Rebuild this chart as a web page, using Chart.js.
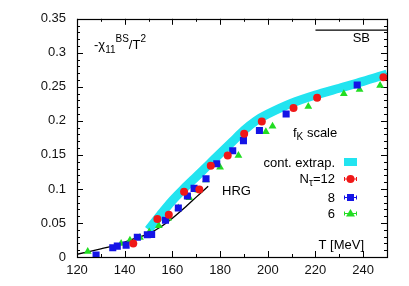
<!DOCTYPE html>
<html>
<head>
<meta charset="utf-8">
<script src="https://cdn.jsdelivr.net/npm/chart.js@4.4.1/dist/chart.umd.min.js"></script>
<style>
  html, body { margin: 0; padding: 0; background: #fff; }
  #wrap { width: 409px; height: 286px; }
</style>
</head>
<body>
<div id="wrap"><canvas id="chart" width="409" height="286"></canvas></div>
<script>
// tick values and labels
const xTickValues = [120, 140, 160, 180, 200, 220, 240];
const xTickLabels = ['120', '140', '160', '180', '200', '220', '240'];
const yTickValues = [0, 0.05, 0.1, 0.15, 0.2, 0.25, 0.3, 0.35];
const yTickLabels = ['0', '0.05', '0.1', '0.15', '0.2', '0.25', '0.3', '0.35'];

// N_tau = 12 (red circles)
const tempN12 = [143.6, 153.7, 158.5, 164.9, 171.3, 176.1, 183.2, 190.1, 197.5, 210.8, 220.7, 248.5];
const chiN12 = [0.020, 0.056, 0.062, 0.096, 0.099, 0.134, 0.149, 0.181, 0.199, 0.219, 0.234, 0.264];

// N_tau = 8 (blue squares)
const tempN8 = [128, 135, 136.9, 140.6, 145.3, 149.5, 151.3, 157.1, 162.5, 166.3, 169.1, 174.1, 178.6, 185.3, 189.8, 196.5, 207.7, 237.5];
const chiN8 = [0.003, 0.0135, 0.016, 0.0174, 0.029, 0.0328, 0.033, 0.054, 0.072, 0.0897, 0.1008, 0.115, 0.137, 0.156, 0.171, 0.186, 0.210, 0.2527];

// N_tau = 6 (green triangles)
const tempN6 = [124.5, 138.5, 142.2, 146.4, 150.3, 154.3, 158.3, 162.5, 167.1, 170.9, 174.1, 180, 187.7, 199.2, 202, 217, 231.9, 238.5, 247.1];
const chiN6 = [0.008, 0.020, 0.0246, 0.0285, 0.0366, 0.046, 0.057, 0.072, 0.087, 0.098, 0.113, 0.132, 0.149, 0.184, 0.192, 0.221, 0.240, 0.246, 0.252];

// continuum extrapolation band (centre line)
const bandTemp = [150, 155, 160, 165, 170, 175, 180, 185, 190, 195, 200, 210, 220, 230, 240, 250];
const bandChi = [0.040, 0.062, 0.083, 0.101, 0.118, 0.135, 0.152, 0.169, 0.186, 0.200, 0.210, 0.226, 0.238, 0.248, 0.258, 0.269];

// hadron resonance gas
const hrgTemp = [120, 125, 130, 135, 140, 145, 150, 155, 160, 165, 170, 175];
const hrgChi = [0.004, 0.008, 0.012, 0.016, 0.022, 0.028, 0.034, 0.044, 0.057, 0.072, 0.088, 0.104];

// Stefan-Boltzmann limit
const sbTemp = [220, 250];
const sbChi = [1 / 3, 1 / 3];

const FONT = '"Liberation Sans", Arial, Helvetica, sans-serif';
const RED = '#f01818';
const BLUE = '#1414e6';
const GREEN = '#22dd22';
const CYAN = '#22e4f0';

function toXY(xs, ys) {
    return xs.map((x, i) => ({ x: x, y: ys[i] }));
}

// draw text made of pieces (sub/superscripts)
function richText(ctx, parts, x, y, align) {
    let total = 0;
    parts.forEach(p => {
        ctx.font = p.size + 'px ' + FONT;
        total += ctx.measureText(p.t).width;
    });
    let cx = align === 'right' ? x - total : x;
    ctx.textAlign = 'left';
    ctx.textBaseline = 'alphabetic';
    parts.forEach(p => {
        ctx.font = p.size + 'px ' + FONT;
        ctx.fillText(p.t, cx, y + (p.dy || 0));
        cx += ctx.measureText(p.t).width;
    });
}

function marker(ctx, style, color, x, y) {
    ctx.fillStyle = color;
    ctx.beginPath();
    if (style === 'circle') {
        ctx.arc(x, y, 4, 0, Math.PI * 2);
    } else if (style === 'rect') {
        ctx.rect(x - 3.5, y - 3.5, 7, 7);
    } else {
        ctx.moveTo(x, y - 4.5);
        ctx.lineTo(x + 4.5, y + 3);
        ctx.lineTo(x - 4.5, y + 3);
        ctx.closePath();
    }
    ctx.fill();
}

const framePlugin = {
    id: 'frame',
    beforeDatasetsDraw(chart) {
        const ctx = chart.ctx;
        const a = chart.chartArea;
        const xs = chart.scales.x;
        const ys = chart.scales.y;
        ctx.save();
        ctx.strokeStyle = '#000';
        ctx.lineWidth = 1;
        ctx.beginPath();
        for (let v = 120; v <= 250; v += 10) {
            const px = Math.round(xs.getPixelForValue(v)) + 0.5;
            const len = (v - 120) % 20 === 0 ? 6 : 3;
            ctx.moveTo(px, a.bottom); ctx.lineTo(px, a.bottom - len);
            ctx.moveTo(px, a.top); ctx.lineTo(px, a.top + len);
        }
        for (let i = 0; i <= 35; i++) {
            const py = Math.round(ys.getPixelForValue(i / 100)) + 0.5;
            const len = i % 5 === 0 ? 6 : 3;
            ctx.moveTo(a.left, py); ctx.lineTo(a.left + len, py);
            ctx.moveTo(a.right, py); ctx.lineTo(a.right - len, py);
        }
        ctx.stroke();
        ctx.restore();
    },
    afterDatasetsDraw(chart) {
        const ctx = chart.ctx;
        const a = chart.chartArea;
        ctx.save();
        ctx.lineWidth = 1.2;
        ctx.strokeStyle = '#000';
        ctx.strokeRect(Math.round(a.left) + 0.5, Math.round(a.top) + 0.5,
            Math.round(a.right - a.left), Math.round(a.bottom - a.top));

        ctx.fillStyle = '#000';
        richText(ctx, [
            { t: '-\u03c7', size: 13 },
            { t: '11', size: 10, dy: 4 },
            { t: 'BS', size: 10, dy: -7 },
            { t: '/T', size: 13 },
            { t: '2', size: 10, dy: -7 }
        ], 94, 49, 'left');
        richText(ctx, [{ t: 'SB', size: 13 }], 370, 42, 'right');
        richText(ctx, [
            { t: 'f', size: 13 },
            { t: 'K', size: 10, dy: 3 },
            { t: ' scale', size: 13 }
        ], 293, 137, 'left');
        richText(ctx, [{ t: 'HRG', size: 13 }], 222, 195, 'left');
        richText(ctx, [{ t: 'T [MeV]', size: 13 }], 364, 249, 'right');

        // legend
        const lx = 335;
        const mx = 350.5;
        richText(ctx, [{ t: 'cont. extrap.', size: 13 }], lx, 167, 'right');
        ctx.fillStyle = CYAN;
        ctx.fillRect(344, 158, 13, 8);

        ctx.fillStyle = '#000';
        richText(ctx, [
            { t: 'N', size: 13 },
            { t: '\u03c4', size: 10, dy: 3 },
            { t: '=12', size: 13 }
        ], lx, 183, 'right');
        richText(ctx, [{ t: '8', size: 13 }], lx, 202, 'right');
        richText(ctx, [{ t: '6', size: 13 }], lx, 218, 'right');

        const rows = [
            { y: 179, style: 'circle', color: RED },
            { y: 197.5, style: 'rect', color: BLUE },
            { y: 213.5, style: 'triangle', color: GREEN }
        ];
        rows.forEach(r => {
            ctx.strokeStyle = r.color;
            ctx.lineWidth = 1;
            ctx.beginPath();
            ctx.moveTo(344, r.y); ctx.lineTo(357, r.y);
            ctx.moveTo(344.5, r.y - 2); ctx.lineTo(344.5, r.y + 2);
            ctx.moveTo(356.5, r.y - 2); ctx.lineTo(356.5, r.y + 2);
            ctx.stroke();
            marker(ctx, r.style, r.color, mx, r.y);
        });
        ctx.restore();
    }
};

new Chart(document.getElementById('chart'), {
    type: 'scatter',
    data: {
        datasets: [
            {
                label: 'Nt=12',
                data: toXY(tempN12, chiN12),
                backgroundColor: RED,
                borderColor: RED,
                pointStyle: 'circle',
                pointRadius: 4,
                borderWidth: 0,
                order: 0
            },
            {
                label: '8',
                data: toXY(tempN8, chiN8),
                backgroundColor: BLUE,
                borderColor: BLUE,
                pointStyle: 'rect',
                pointRadius: 5,
                borderWidth: 0,
                order: 1
            },
            {
                label: '6',
                data: toXY(tempN6, chiN6),
                backgroundColor: GREEN,
                borderColor: GREEN,
                pointStyle: 'triangle',
                pointRadius: 4.5,
                borderWidth: 0,
                order: 2
            },
            {
                label: 'HRG',
                data: toXY(hrgTemp, hrgChi),
                showLine: true,
                borderColor: '#000',
                borderWidth: 1.3,
                pointRadius: 0,
                cubicInterpolationMode: 'monotone',
                order: 3
            },
            {
                label: 'SB',
                data: toXY(sbTemp, sbChi),
                showLine: true,
                borderColor: '#000',
                borderWidth: 1.2,
                pointRadius: 0,
                order: 4
            },
            {
                label: 'cont. extrap.',
                data: toXY(bandTemp, bandChi),
                showLine: true,
                borderColor: CYAN,
                borderWidth: 9,
                borderCapStyle: 'butt',
                borderJoinStyle: 'round',
                pointRadius: 0,
                tension: 0.3,
                order: 5
            }
        ]
    },
    options: {
        responsive: false,
        animation: false,
        events: [],
        layout: { padding: { left: 0, right: 22, top: 15, bottom: 0 } },
        plugins: {
            legend: { display: false },
            tooltip: { enabled: false }
        },
        scales: {
            x: {
                type: 'linear',
                min: 120,
                max: 250,
                afterBuildTicks: s => { s.ticks = xTickValues.map(v => ({ value: v })); },
                afterFit: s => { s.height = 29; },
                grid: { display: false, drawTicks: false },
                border: { display: false },
                ticks: {
                    padding: 6,
                    color: '#111',
                    font: { family: FONT, size: 13 },
                    maxRotation: 0,
                    callback: (v, i) => xTickLabels[i]
                }
            },
            y: {
                type: 'linear',
                min: 0,
                max: 0.35,
                afterBuildTicks: s => { s.ticks = yTickValues.map(v => ({ value: v })); },
                afterFit: s => { s.width = 77; },
                grid: { display: false, drawTicks: false },
                border: { display: false },
                ticks: {
                    padding: 11,
                    color: '#111',
                    font: { family: FONT, size: 13 },
                    callback: (v, i) => yTickLabels[i]
                }
            }
        }
    },
    plugins: [framePlugin]
});
</script>
</body>
</html>
